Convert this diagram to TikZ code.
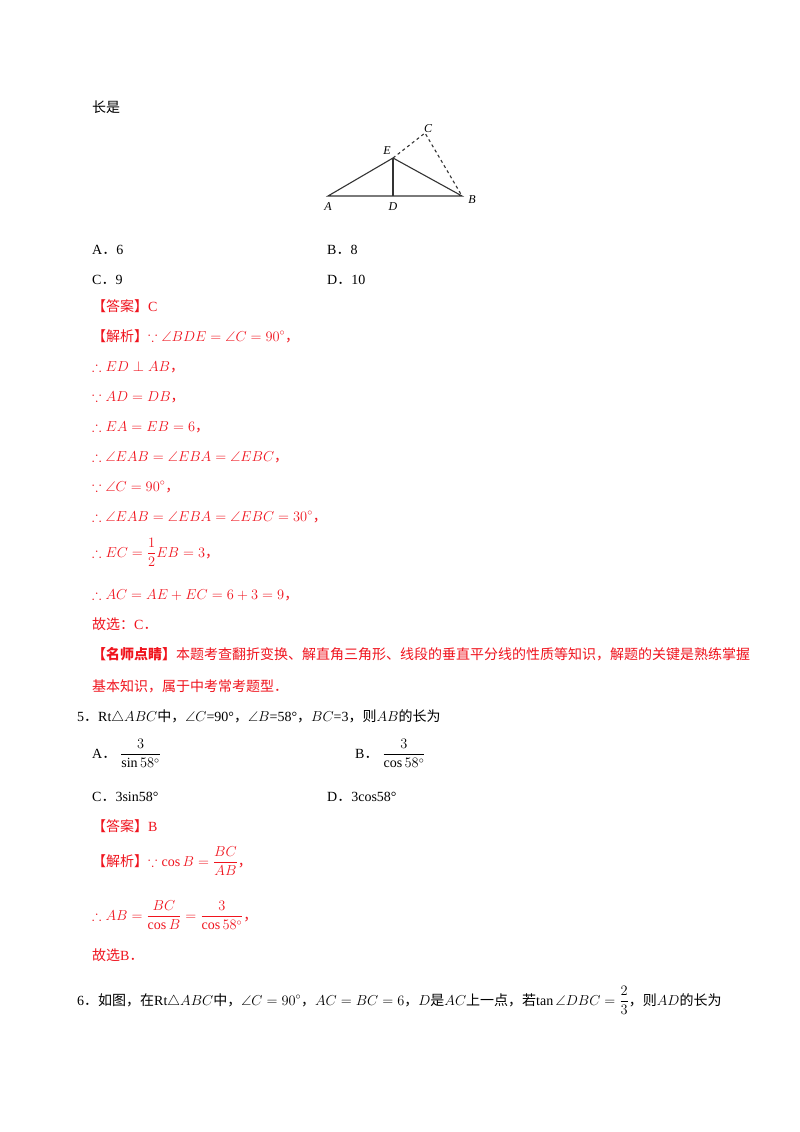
\documentclass[tikz,border=0pt]{standalone}
\usepackage{amsmath,amssymb}
\usepackage{fontspec}
\setmainfont{Liberation Serif}
\newfontfamily\cjk{Noto Sans CJK SC}
\newcommand{\zh}[1]{{\cjk #1}}
\definecolor{ansred}{RGB}{240,20,30}
\begin{document}
\begin{tikzpicture}[x=1pt,y=-1pt,
    txt/.style = {anchor=base west, inner sep=0pt, font=\fontsize{14}{16}\selectfont},
    ans/.style = {txt, text=ansred},
    seg/.style = {line width=1.1pt, draw=black!80},
    lbl/.style = {inner sep=0pt, font=\fontsize{12}{14}\selectfont\itshape}]

\useasboundingbox[fill=white] (0,0) rectangle (800,1132);

% Figure
\coordinate (A) at (328,196);
\coordinate (D) at (393,196);
\coordinate (B) at (462,196);
\coordinate (E) at (393,158);
\coordinate (C) at (425,133);
\draw[seg] (A) -- (B) -- (E) -- cycle;
\draw[seg] (E) -- (D);
\draw[seg, dashed] (E) -- (C) -- (B);
\node[lbl] (lA) at (328,207) {A};
\node[lbl] (lD) at (393,207) {D};
\node[lbl] (lB) at (472,200) {B};
\node[lbl] (lE) at (387,151) {E};
\node[lbl] (lC) at (428,129) {C};

% Question 4 tail
\node[txt] (q4) at (92,112) {\zh{长是}};
\node[txt] (q4a) at (92,254) {A\zh{．}6};
\node[txt] (q4b) at (327,254) {B\zh{．}8};
\node[txt] (q4c) at (92,284) {C\zh{．}9};
\node[txt] (q4d) at (327,284) {D\zh{．}10};

% Answer 4
\node[ans] (a1) at (92,311) {\zh{【答案】}C};
\node[ans] (a2) at (92,341) {\zh{【解析】}$\because\angle BDE=\angle C=90^\circ$\zh{，}};
\node[ans] (a3) at (92,371) {$\therefore ED\perp AB$\zh{，}};
\node[ans] (a4) at (92,401) {$\because AD=DB$\zh{，}};
\node[ans] (a5) at (92,431) {$\therefore EA=EB=6$\zh{，}};
\node[ans] (a6) at (92,461) {$\therefore\angle EAB=\angle EBA=\angle EBC$\zh{，}};
\node[ans] (a7) at (92,491) {$\because\angle C=90^\circ$\zh{，}};
\node[ans] (a8) at (92,521) {$\therefore\angle EAB=\angle EBA=\angle EBC=30^\circ$\zh{，}};
\node[ans] (a9) at (92,557) {$\therefore EC=\dfrac{1}{2}EB=3$\zh{，}};
\node[ans] (a10) at (92,599) {$\therefore AC=AE+EC=6+3=9$\zh{，}};
\node[ans] (a11) at (92,629) {\zh{故选：}C\zh{．}};
\node[ans] (a12) at (92,659) {\textbf{\zh{【名师点睛】}}\zh{本题考查翻折变换、解直角三角形、线段的垂直平分线的性质等知识，解题的关键是熟练掌握}};
\node[ans] (a13) at (92,691) {\zh{基本知识，属于中考常考题型．}};

% Question 5
\node[txt] (q5) at (77,721) {5\zh{．}Rt$\triangle ABC$\zh{中，}$\angle C$=90°\zh{，}$\angle B$=58°\zh{，}$BC$=3\zh{，则}$AB$\zh{的长为}};
\node[txt] (q5a) at (92,758) {A\zh{．}\;$\dfrac{3}{\sin 58^\circ}$};
\node[txt] (q5b) at (355,758) {B\zh{．}\;$\dfrac{3}{\cos 58^\circ}$};
\node[txt] (q5c) at (92,801) {C\zh{．}3sin58°};
\node[txt] (q5d) at (327,801) {D\zh{．}3cos58°};

% Answer 5
\node[ans] (b1) at (92,831) {\zh{【答案】}B};
\node[ans] (b2) at (92,866) {\zh{【解析】}$\because\cos B=\dfrac{BC}{AB}$\zh{，}};
\node[ans] (b3) at (92,920) {$\therefore AB=\dfrac{BC}{\cos B}=\dfrac{3}{\cos 58^\circ}$\zh{，}};
\node[ans] (b4) at (92,960) {\zh{故选}B\zh{．}};

% Question 6
\node[txt] (q6) at (77,1005) {6\zh{．如图，在}Rt$\triangle ABC$\zh{中，}$\angle C=90^\circ$\zh{，}$AC=BC=6$\zh{，}$D$\zh{是}$AC$\zh{上一点，若}$\tan\angle DBC=\dfrac{2}{3}$\zh{，则}$AD$\zh{的长为}};
\end{tikzpicture}
\end{document}
